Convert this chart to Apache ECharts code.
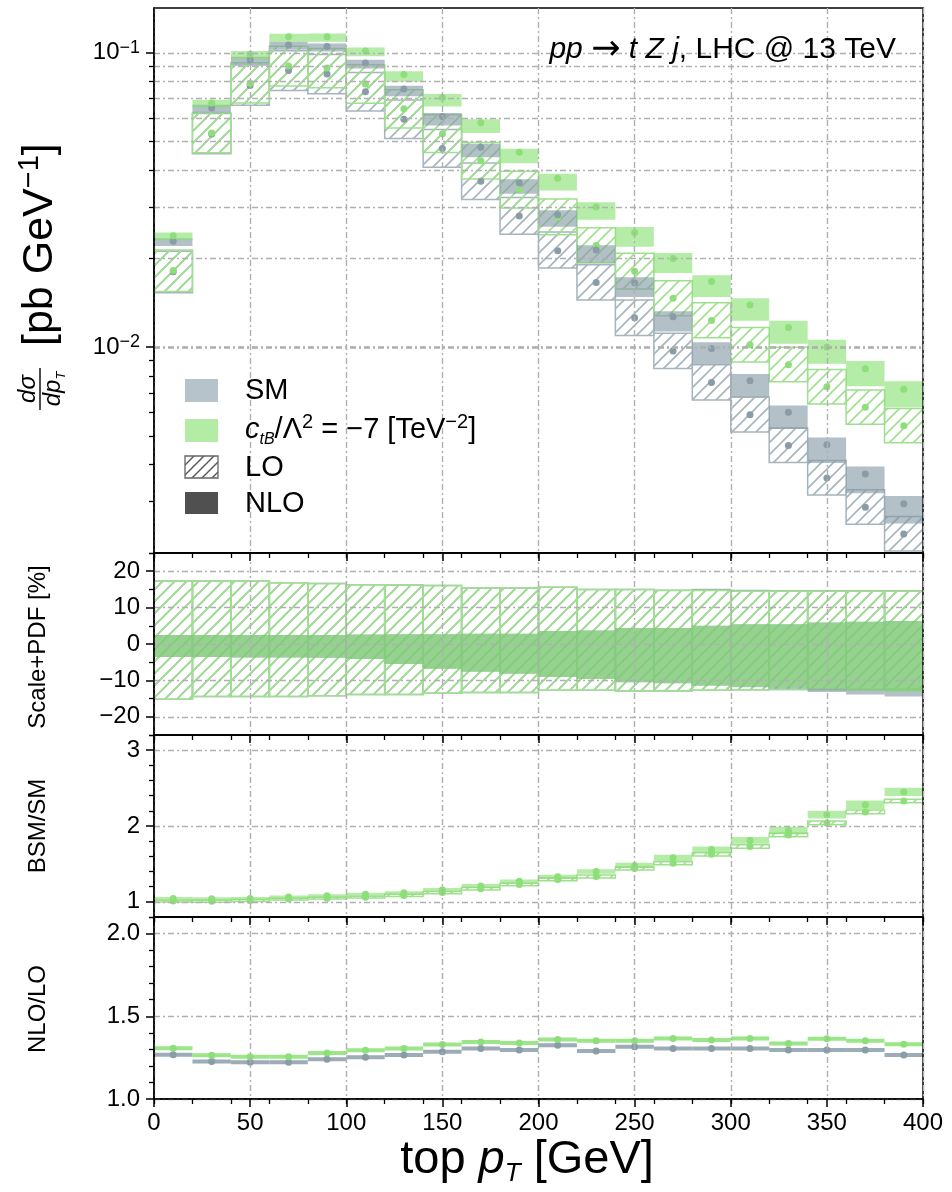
<!DOCTYPE html>
<html>
<head>
<meta charset="utf-8">
<script src="https://cdn.jsdelivr.net/npm/echarts@6/dist/echarts.min.js"></script>
<style>
html, body { margin: 0; padding: 0; background: #fff; }
#chart { width: 952px; height: 1192px; }
</style>
</head>
<body>
<div id="chart"></div>
<script>
// ---- data: top-quark pT bins (GeV) ----
const ptEdges = [0, 20, 40, 60, 80, 100, 120, 140, 160, 180, 200, 220, 240, 260, 280, 300, 320, 340, 360, 380, 400];

// SM NLO central differential cross section [pb/GeV]
const smNLO = [0.0229, 0.0650, 0.0947, 0.1064, 0.1050, 0.0923, 0.0753, 0.0608, 0.0478, 0.0362,
               0.0282, 0.0214, 0.01656, 0.01268, 0.0099, 0.00769, 0.00601, 0.00466, 0.00371, 0.00294];

// NLO/LO K-factors
const kSM  = [1.268, 1.226, 1.222, 1.222, 1.240, 1.252, 1.266, 1.286, 1.305, 1.296,
              1.325, 1.290, 1.316, 1.305, 1.305, 1.305, 1.296, 1.296, 1.296, 1.266];
const kBSM = [1.307, 1.264, 1.255, 1.255, 1.278, 1.294, 1.305, 1.329, 1.345, 1.339,
              1.360, 1.352, 1.352, 1.366, 1.356, 1.366, 1.336, 1.364, 1.352, 1.331];
const kErr = [0.012, 0.012, 0.012, 0.012, 0.012, 0.012, 0.012, 0.012, 0.012, 0.012,
              0.012, 0.012, 0.012, 0.012, 0.012, 0.012, 0.012, 0.012, 0.012, 0.012];

// BSM/SM ratios
const rNLO = [1.045, 1.040, 1.045, 1.065, 1.080, 1.100, 1.120, 1.160, 1.210, 1.270,
              1.330, 1.400, 1.480, 1.580, 1.690, 1.810, 1.940, 2.150, 2.280, 2.450];
const rNLOerr = [0.020, 0.020, 0.020, 0.020, 0.020, 0.020, 0.020, 0.022, 0.025, 0.025,
                 0.028, 0.030, 0.035, 0.040, 0.040, 0.045, 0.050, 0.050, 0.055, 0.055];
const rLO  = [1.010, 1.008, 1.018, 1.036, 1.048, 1.062, 1.085, 1.122, 1.173, 1.228,
              1.296, 1.335, 1.440, 1.510, 1.626, 1.730, 1.882, 2.040, 2.185, 2.330];
const rLOerr = [0.012, 0.012, 0.012, 0.012, 0.012, 0.013, 0.014, 0.015, 0.016, 0.017,
                0.018, 0.020, 0.020, 0.020, 0.021, 0.022, 0.023, 0.025, 0.025, 0.022];

// scale+PDF uncertainties [%]
const loUpSM   = [17.3, 17.3, 17.3, 16.8, 16.6, 16.3, 16.2, 16.1, 15.4, 15.4, 15.6, 15.0, 15.0, 14.8, 15.0, 14.7, 14.6, 14.6, 14.6, 14.6];
const loUpBSM  = [17.3, 17.3, 17.3, 16.8, 16.6, 16.3, 16.2, 16.1, 15.4, 15.4, 15.6, 15.0, 15.0, 14.7, 14.7, 14.5, 14.5, 14.5, 14.5, 14.5];
const loDnSM   = [-15.2, -14.4, -14.4, -14.4, -14.2, -13.9, -13.9, -13.5, -13.3, -13.3, -12.7, -12.7, -12.9, -12.9, -12.7, -12.6, -12.5, -12.5, -12.5, -12.5];
const loDnBSM  = [-15.2, -14.4, -14.4, -14.4, -14.2, -13.9, -13.9, -13.5, -13.3, -13.3, -12.7, -12.7, -12.9, -12.9, -12.7, -12.6, -12.5, -12.5, -12.5, -12.5];
const nloUpSM  = [2.5, 2.5, 2.5, 2.5, 2.5, 2.6, 2.7, 2.7, 2.8, 2.8, 3.6, 3.7, 4.4, 4.4, 5.0, 5.4, 5.4, 5.9, 6.1, 6.3];
const nloUpBSM = [2.5, 2.5, 2.5, 2.5, 2.5, 2.6, 2.7, 2.7, 2.8, 2.8, 3.6, 3.7, 4.4, 4.4, 5.0, 5.4, 5.4, 5.9, 6.1, 6.3];
const nloDnSM  = [-3.6, -3.6, -3.7, -3.7, -3.8, -4.1, -5.5, -6.8, -7.6, -8.2, -9.1, -9.6, -10.5, -10.8, -11.5, -11.9, -12.3, -13.2, -13.9, -14.4];
const nloDnBSM = [-3.6, -3.6, -3.7, -3.7, -3.8, -4.1, -5.5, -6.8, -7.6, -8.2, -9.1, -9.6, -10.5, -10.8, -11.4, -11.7, -11.9, -12.3, -12.8, -13.2];

// axis ranges and tick values
const xRange = [0, 400];
const sigmaRange = [0.002, 0.142];
const sigmaTicks = [0.01, 0.1];
const sigmaMinorTicks = [0.002, 0.003, 0.004, 0.005, 0.006, 0.007, 0.008, 0.009,
                         0.02, 0.03, 0.04, 0.05, 0.06, 0.07, 0.08, 0.09];
const pctRange = [-25, 25];
const pctTicks = [-20, -10, 0, 10, 20];
const pctMinorTicks = [-25, -15, -5, 5, 15, 25];
const bsmRange = [0.8, 3.2];
const bsmTicks = [1, 2, 3];
const bsmMinorTicks = [0.8, 1.2, 1.4, 1.6, 1.8, 2.2, 2.4, 2.6, 2.8, 3.2];
const kRange = [1.0, 2.1];
const kTicks = [1.0, 1.5, 2.0];
const kMinorTicks = [1.1, 1.2, 1.3, 1.4, 1.6, 1.7, 1.8, 1.9, 2.1];

// ---- derived per-bin quantities ----
const centers = smNLO.map((_, i) => (ptEdges[i] + ptEdges[i + 1]) / 2);
const smLO = smNLO.map((v, i) => v / kSM[i]);
const bsmNLO = smNLO.map((v, i) => v * rNLO[i]);
const bsmLO = smLO.map((v, i) => v * rLO[i]);

// [xLow, xHigh, yLow, yHigh] rows
function relRows(c, up, dn) {
  return c.map((v, i) => [ptEdges[i], ptEdges[i + 1], v * (1 + dn[i] / 100), v * (1 + up[i] / 100)]);
}
function absRows(dn, up) {
  return dn.map((v, i) => [ptEdges[i], ptEdges[i + 1], v, up[i]]);
}
function errRows(c, e) {
  return c.map((v, i) => [ptEdges[i], ptEdges[i + 1], v - e[i], v + e[i]]);
}
function points(c) { return c.map((v, i) => [centers[i], v]); }

// ---- styling ----
const FONT = '"Liberation Sans", Arial, Helvetica, sans-serif';
const SM_FILL = 'rgba(128,150,163,0.6)';
const BSM_FILL = 'rgba(127,223,103,0.58)';
const SM_FILL_K = 'rgba(128,150,163,0.78)';
const BSM_FILL_K = 'rgba(127,223,103,0.78)';
const SM_EDGE = '#a5b4bd';
const BSM_EDGE = '#9fe08f';
const SM_DOT = '#8a9ca7';
const BSM_DOT = '#8ddf79';
const gridLineStyle = { color: '#b0b0b0', width: 1.4, type: [6, 3, 2, 3] };

function hatchTile(color, size, lw) {
  const c = document.createElement('canvas');
  c.width = size; c.height = size;
  const ctx = c.getContext('2d');
  ctx.strokeStyle = color;
  ctx.lineWidth = lw;
  ctx.beginPath();
  ctx.moveTo(0, size); ctx.lineTo(size, 0);
  ctx.moveTo(-size / 2, size / 2); ctx.lineTo(size / 2, -size / 2);
  ctx.moveTo(size / 2, size * 1.5); ctx.lineTo(size * 1.5, size / 2);
  ctx.stroke();
  return c;
}
const smHatch = { image: hatchTile(SM_EDGE, 12, 1.6), repeat: 'repeat' };
const bsmHatch = { image: hatchTile(BSM_EDGE, 12, 1.6), repeat: 'repeat' };
const darkHatch = { image: hatchTile('#555555', 10, 1.4), repeat: 'repeat' };

function boxRenderer(style) {
  return function (params, api) {
    const a = api.coord([api.value(0), api.value(3)]);
    const b = api.coord([api.value(1), api.value(2)]);
    return {
      type: 'rect',
      shape: { x: a[0], y: a[1], width: b[0] - a[0], height: b[1] - a[1] },
      style: Object.assign({}, style)
    };
  };
}

function boxSeries(g, rows, style, z) {
  return {
    type: 'custom', xAxisIndex: 2 * g, yAxisIndex: 2 * g, clip: true, silent: true, z: z,
    encode: { x: [0, 1], y: [2, 3] },
    renderItem: boxRenderer(style), data: rows
  };
}
function hatchSeries(g, rows, edge, pattern) {
  return boxSeries(g, rows, { fill: pattern, stroke: edge, lineWidth: 1.5 }, 2);
}
function fillSeries(g, rows, color, z) {
  return boxSeries(g, rows, { fill: color, lineWidth: 0 }, z || 3);
}
function dotSeries(g, c, color) {
  return {
    type: 'scatter', xAxisIndex: 2 * g, yAxisIndex: 2 * g, silent: true, z: 4,
    symbol: 'circle', symbolSize: 7, itemStyle: { color: color, opacity: 1 },
    data: points(c)
  };
}

// ---- grids ----
const grids = [
  { top: 8, height: 545 },
  { top: 553, height: 182 },
  { top: 735, height: 182 },
  { top: 917, height: 182 }
].map(g => Object.assign({
  left: 154, right: 29, show: true, borderColor: '#000', borderWidth: 1.5,
  backgroundColor: 'rgba(0,0,0,0)', z: 6
}, g));

// ---- x axes: major (every 50) and minor (every 20) for each panel ----
const xAxes = [];
grids.forEach((g, i) => {
  xAxes.push({
    gridIndex: i, type: 'value', min: xRange[0], max: xRange[1], interval: 50, position: 'bottom', z: 6,
    axisLine: { show: true, onZero: false, lineStyle: { color: '#000', width: 1.5 } },
    axisTick: { show: true, inside: false, length: 8, lineStyle: { color: '#000', width: 1.5 } },
    axisLabel: { show: i === 3, margin: 12, fontSize: 24, color: '#000', fontFamily: FONT },
    splitLine: { show: true, lineStyle: gridLineStyle }
  });
  xAxes.push({
    gridIndex: i, type: 'value', min: xRange[0], max: xRange[1], interval: 20, position: 'bottom', z: 6,
    axisLine: { show: false, onZero: false },
    axisTick: { show: true, inside: false, length: 5, lineStyle: { color: '#000', width: 1.3 } },
    axisLabel: { show: false }, splitLine: { show: false }
  });
});

// ---- y axes ----
const labelRich = {
  b: { fontSize: 24, fontFamily: FONT, color: '#000', lineHeight: 28 },
  s: { fontSize: 18, fontFamily: FONT, color: '#000', verticalAlign: 'top', lineHeight: 16 }
};
const yDefs = [
  { type: 'log', range: sigmaRange, major: sigmaTicks, minor: sigmaMinorTicks, split: 5,
    fmt: v => { const e = Math.round(Math.log10(v)); return '{b|10}{s|' + (e < 0 ? '\u2212' : '') + Math.abs(e) + '}'; } },
  { type: 'value', range: pctRange, major: pctTicks, minor: pctMinorTicks, split: 5,
    fmt: v => (v < 0 ? '\u2212' : '') + Math.abs(Math.round(v)) },
  { type: 'value', range: bsmRange, major: bsmTicks, minor: bsmMinorTicks, split: 2,
    fmt: v => String(Math.round(v)) },
  { type: 'value', range: kRange, major: kTicks, minor: kMinorTicks, split: 2,
    fmt: v => v.toFixed(1) }
];
const yAxes = [];
yDefs.forEach((d, i) => {
  yAxes.push({
    gridIndex: i, type: d.type, min: d.range[0], max: d.range[1], splitNumber: d.split, position: 'left', z: 6,
    axisLine: { show: true, onZero: false, lineStyle: { color: '#000', width: 1.5 } },
    axisTick: { show: true, inside: false, length: 8, customValues: d.major, lineStyle: { color: '#000', width: 1.5 } },
    axisLabel: { show: true, customValues: d.major, margin: 14, fontSize: 24, color: '#000', fontFamily: FONT,
                 formatter: d.fmt, rich: labelRich },
    splitLine: { show: true, lineStyle: gridLineStyle }
  });
  yAxes.push({
    gridIndex: i, type: d.type, min: d.range[0], max: d.range[1], position: 'left', z: 6,
    axisLine: { show: false, onZero: false },
    axisTick: { show: true, inside: false, length: 5, customValues: d.minor, lineStyle: { color: '#000', width: 1.3 } },
    axisLabel: { show: false }, splitLine: { show: false }
  });
});

// ---- series ----
const series = [
  // minor horizontal grid lines of the log panel
  {
    type: 'line', xAxisIndex: 0, yAxisIndex: 0, data: [], silent: true, z: 1,
    markLine: {
      silent: true, symbol: ['none', 'none'], label: { show: false }, animation: false,
      lineStyle: gridLineStyle,
      data: sigmaMinorTicks.map(v => ({ yAxis: v }))
    }
  },
  // panel 1: differential cross sections
  hatchSeries(0, relRows(smLO, loUpSM, loDnSM), SM_EDGE, smHatch),
  hatchSeries(0, relRows(bsmLO, loUpBSM, loDnBSM), BSM_EDGE, bsmHatch),
  fillSeries(0, relRows(smNLO, nloUpSM, nloDnSM), SM_FILL),
  fillSeries(0, relRows(bsmNLO, nloUpBSM, nloDnBSM), BSM_FILL),
  dotSeries(0, smLO, SM_DOT),
  dotSeries(0, bsmLO, BSM_DOT),
  dotSeries(0, smNLO, SM_DOT),
  dotSeries(0, bsmNLO, BSM_DOT),
  // panel 2: scale+PDF uncertainty
  hatchSeries(1, absRows(loDnSM, loUpSM), SM_EDGE, smHatch),
  hatchSeries(1, absRows(loDnBSM, loUpBSM), BSM_EDGE, bsmHatch),
  fillSeries(1, absRows(nloDnSM, nloUpSM), SM_FILL),
  fillSeries(1, absRows(nloDnBSM, nloUpBSM), BSM_FILL),
  // panel 3: BSM/SM
  hatchSeries(2, errRows(rLO, rLOerr), BSM_EDGE, bsmHatch),
  fillSeries(2, errRows(rNLO, rNLOerr), BSM_FILL),
  dotSeries(2, rLO, BSM_DOT),
  dotSeries(2, rNLO, BSM_DOT),
  // panel 4: NLO/LO
  fillSeries(3, errRows(kSM, kErr), SM_FILL_K),
  fillSeries(3, errRows(kBSM, kErr), BSM_FILL_K),
  dotSeries(3, kSM, SM_DOT),
  dotSeries(3, kBSM, BSM_DOT)
];

// ---- text and legend ----
function txt(x, y, text, size, extra) {
  return { type: 'text', x: x, y: y, z: 10, silent: true,
    style: Object.assign({ text: text, fill: '#000', fontSize: size, fontFamily: FONT,
                           align: 'left', verticalAlign: 'middle' }, extra || {}) };
}
function richSet(size) {
  return {
    n: { fontSize: size, fontFamily: FONT, fill: '#000', lineHeight: size + 6 },
    i: { fontSize: size, fontFamily: FONT, fontStyle: 'italic', fill: '#000', lineHeight: size + 6 },
    a: { fontSize: Math.round(size * 1.15), fontFamily: '"DejaVu Sans", sans-serif', fill: '#000', lineHeight: size + 6 },
    sup: { fontSize: Math.round(size * 0.68), fontFamily: FONT, fill: '#000', verticalAlign: 'top', lineHeight: Math.round(size * 0.6) },
    sub: { fontSize: Math.round(size * 0.55), fontFamily: FONT, fontStyle: 'italic', fill: '#000', verticalAlign: 'bottom', lineHeight: Math.round(size * 0.5) }
  };
}

const legendX = 185, legendTextX = 245;
const graphics = [
  // process label
  txt(896, 50, '{i|pp}{n| }{a|\u2192}{n| }{i|t}{n| }{i|Z}{n| }{i|j}{n|, LHC @ 13 TeV}', 30,
      { align: 'right', rich: richSet(30) }),
  // legend
  { type: 'rect', z: 10, silent: true, shape: { x: legendX, y: 379, width: 33, height: 23 }, style: { fill: '#b6c3cb' } },
  { type: 'rect', z: 10, silent: true, shape: { x: legendX, y: 419, width: 33, height: 23 }, style: { fill: '#b3eca4' } },
  { type: 'rect', z: 10, silent: true, shape: { x: legendX, y: 456, width: 33, height: 22 },
    style: { fill: darkHatch, stroke: '#666', lineWidth: 1.3 } },
  { type: 'rect', z: 10, silent: true, shape: { x: legendX, y: 492, width: 33, height: 22 }, style: { fill: '#505050' } },
  txt(legendTextX, 391, 'SM', 29),
  txt(legendTextX, 430, '{i|c}{sub|tB}{n|/\u039B}{sup|2}{n| = \u22127 [TeV}{sup|\u22122}{n|]}', 29, { rich: richSet(29) }),
  txt(legendTextX, 468, 'LO', 29),
  txt(legendTextX, 504, 'NLO', 29),
  // y title of the cross-section panel
  { type: 'group', x: 40, y: 278, rotation: Math.PI / 2, silent: true, z: 10, children: [
    { type: 'text', x: -111, y: -12, z: 10, style: { text: 'd\u03C3', fill: '#000', fontSize: 24, fontStyle: 'italic',
      fontFamily: FONT, align: 'center', verticalAlign: 'middle' } },
    { type: 'line', z: 10, shape: { x1: -132, y1: 0, x2: -90, y2: 0 }, style: { stroke: '#000', lineWidth: 1.4 } },
    { type: 'text', x: -111, y: 13, z: 10, style: { text: '{i|dp}{sub|T}', rich: richSet(24),
      align: 'center', verticalAlign: 'middle' } },
    { type: 'text', x: -68, y: 0, z: 10, style: { text: '{n|[pb GeV}{sup|\u22121}{n|]}', rich: richSet(43),
      align: 'left', verticalAlign: 'middle' } }
  ] },
  // y titles of ratio panels
  { type: 'text', x: 38, y: 647, rotation: Math.PI / 2, z: 10, silent: true,
    style: { text: 'Scale+PDF [%]', fill: '#000', fontSize: 24, fontFamily: FONT, align: 'center', verticalAlign: 'middle' } },
  { type: 'text', x: 38, y: 826, rotation: Math.PI / 2, z: 10, silent: true,
    style: { text: 'BSM/SM', fill: '#000', fontSize: 24, fontFamily: FONT, align: 'center', verticalAlign: 'middle' } },
  { type: 'text', x: 38, y: 1009, rotation: Math.PI / 2, z: 10, silent: true,
    style: { text: 'NLO/LO', fill: '#000', fontSize: 24, fontFamily: FONT, align: 'center', verticalAlign: 'middle' } },
  // x title
  txt(527, 1160, '{n|top }{i|p}{sub|T}{n| [GeV]}', 47, { align: 'center', rich: richSet(47) })
];

const chart = echarts.init(document.getElementById('chart'), null, { renderer: 'canvas' });
chart.setOption({
  animation: false,
  backgroundColor: '#fff',
  grid: grids,
  xAxis: xAxes,
  yAxis: yAxes,
  series: series,
  graphic: { elements: graphics }
});
</script>
</body>
</html>
